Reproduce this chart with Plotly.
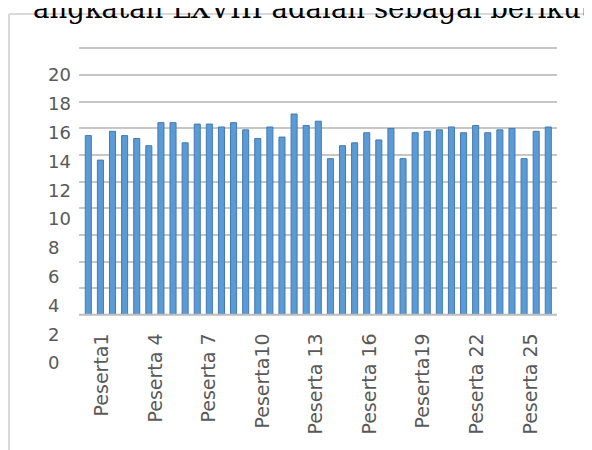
import plotly.graph_objects as go

# ---- data ----
scores = [15.8, 14.1, 16.1, 15.8, 15.6, 15.1, 16.7, 16.7, 15.3, 16.6,
          16.6, 16.4, 16.7, 16.2, 15.6, 16.4, 15.7, 17.3, 16.5, 16.8,
          14.2, 15.1, 15.3, 16.0, 15.5, 16.3, 14.2, 16.0, 16.1, 16.2,
          16.4, 16.0, 16.5, 16.0, 16.2, 16.3, 14.2, 16.1, 16.4]
bar_numbers = list(range(1, len(scores) + 1))
label_numbers = [1, 4, 7, 10, 13, 16, 19, 22, 25]
label_texts = ["Peserta1", "Peserta 4", "Peserta 7", "Peserta10", "Peserta 13",
               "Peserta 16", "Peserta19", "Peserta 22", "Peserta 25"]
y_ticks = list(range(0, 21, 2))
heading = "angkatan LXVIII adalah sebagai berikut"

# page body has an 8px margin: work in window pixels and convert
OFF = 8
W, H = 592 - OFF, 450 - OFF


def fx(px):
    return (px - OFF) / W


def fy(py):
    return 1 - (py - OFF) / H


PL, PR, PT, PB = 79, 557, 46, 316          # plot area (window pixels)
GRID_PX = (PB - PT) / 20                   # pixels per grid unit
BAR0, BARSTEP = 88.3, 12.105               # first bar centre, bar pitch
LAB0, LABSTEP = 102, 17.85                 # category label placement
LBL_ZERO, LBL_PX = 365, 14.6               # y label scale
TOP_PAD = 0.3                              # so the top gridline is drawn

fig = go.Figure()
fig.add_trace(go.Scatter(x=[None], y=[None], xaxis="x", yaxis="y",
                         showlegend=False, hoverinfo="skip"))
fig.add_trace(go.Bar(x=bar_numbers, y=scores, xaxis="x", yaxis="y2", width=0.5,
                     marker=dict(color="#5b9bd5", line=dict(color="#4479b3", width=1)),
                     showlegend=False, hoverinfo="skip"))
fig.add_trace(go.Scatter(x=[None], y=[None], xaxis="x2", yaxis="y3",
                         showlegend=False, hoverinfo="skip"))

top_px = PT - TOP_PAD * GRID_PX

fig.update_layout(
    width=W, height=H,
    margin=dict(l=0, r=0, t=0, b=0),
    paper_bgcolor="white", plot_bgcolor="rgba(0,0,0,0)",
    showlegend=False,
    xaxis=dict(domain=[fx(PL), fx(PR)],
               range=[1 + (PL - BAR0) / BARSTEP, 1 + (PR - BAR0) / BARSTEP],
               showgrid=False, zeroline=False, showline=False,
               showticklabels=False, ticks=""),
    yaxis=dict(domain=[fy(PB), fy(top_px)], range=[0, 20 + TOP_PAD], anchor="x",
               tickvals=y_ticks, showgrid=True, gridcolor="#c6c6c6", gridwidth=2,
               zeroline=False, showline=False, showticklabels=False, ticks=""),
    yaxis2=dict(overlaying="y", anchor="x",
                range=[(LBL_ZERO - PB) / LBL_PX, (LBL_ZERO - top_px) / LBL_PX],
                showgrid=False, zeroline=False, showline=False,
                showticklabels=False, ticks=""),
    xaxis2=dict(domain=[fx(PL), fx(PR)], anchor="free", position=fy(330),
                range=[1 + (PL - LAB0) / LABSTEP, 1 + (PR - LAB0) / LABSTEP],
                tickmode="array", tickvals=label_numbers, ticktext=label_texts,
                tickangle=-90, ticks="",
                tickfont=dict(family="DejaVu Sans", size=19, color="#595959"),
                showgrid=False, zeroline=False, showline=False),
    yaxis3=dict(domain=[fy(LBL_ZERO + 0.5 * LBL_PX), fy(LBL_ZERO - 20.5 * LBL_PX)],
                range=[-0.5, 20.5], anchor="free", position=fx(47), side="right",
                tickmode="array", tickvals=y_ticks, ticks="",
                tickfont=dict(family="DejaVu Sans", size=18, color="#595959"),
                showgrid=False, zeroline=False, showline=False),
    shapes=[
        dict(type="line", xref="paper", yref="paper",
             x0=fx(9), x1=fx(9), y0=fy(11), y1=fy(470),
             line=dict(color="#d9d9d9", width=2)),
        dict(type="line", xref="paper", yref="paper",
             x0=fx(9), x1=fx(620), y0=fy(11), y1=fy(11),
             line=dict(color="#d9d9d9", width=2)),
        dict(type="line", xref="paper", yref="paper",
             x0=fx(PL), x1=fx(PR), y0=fy(PB), y1=fy(PB),
             line=dict(color="#bdbdbd", width=2)),
    ],
    annotations=[
        dict(text=heading, xref="paper", yref="paper", x=fx(31), y=fy(24.5),
             xanchor="left", yanchor="bottom", showarrow=False,
             font=dict(family="DejaVu Serif", size=27.6, color="black")),
    ],
)

fig.write_html("out.html")
